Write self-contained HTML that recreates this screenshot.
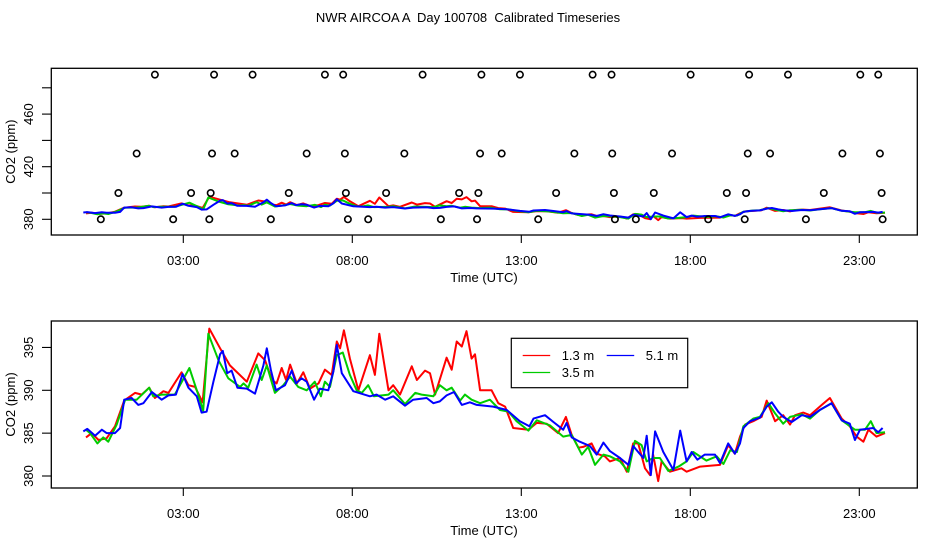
<!DOCTYPE html>
<html><head><meta charset="utf-8"><title>NWR AIRCOA A Day 100708</title>
<style>html,body{margin:0;padding:0;background:#fff;}svg{display:block;font-family:"Liberation Sans",sans-serif;}</style>
</head><body>
<svg id="chart" width="936" height="540" viewBox="0 0 936 540"></svg>
<script>
// ---- data (hours UTC, CO2 ppm) ----
const redT=[0.12,0.29,0.49,0.73,0.98,1.25,1.57,1.77,1.99,2.16,2.41,2.56,2.95,3.15,3.35,3.57,3.77,4.09,4.38,4.88,5.22,5.42,5.62,5.76,5.91,6.04,6.16,6.36,6.55,6.75,7.00,7.19,7.39,7.54,7.64,7.75,7.93,8.18,8.52,8.67,8.80,9.07,9.21,9.41,9.76,9.91,10.15,10.30,10.45,10.79,10.94,11.09,11.24,11.38,11.53,11.63,11.78,12.12,12.32,12.52,12.76,13.21,13.46,13.75,14.09,14.32,14.49,14.69,14.83,15.08,15.23,15.47,15.62,15.92,16.12,16.31,16.46,16.66,16.81,16.90,17.05,17.15,17.40,17.74,17.89,18.29,18.58,18.88,19.12,19.32,19.47,19.62,19.86,20.11,20.26,20.51,20.75,20.95,21.10,21.34,21.54,21.89,22.13,22.48,22.72,22.92,23.12,23.27,23.51,23.76];
const redV=[384.5,385.0,384.2,384.4,385.8,388.8,389.7,389.5,390.3,389.1,389.9,389.7,392.1,390.6,390.4,388.6,397.2,394.9,392.9,391.0,394.3,393.5,391.2,390.8,392.6,391.2,393.0,390.8,392.1,390.2,390.8,392.4,391.8,395.7,394.9,397.0,393.7,390.0,394.1,391.8,396.6,390.0,390.6,389.5,392.8,391.2,392.3,392.0,389.5,393.8,392.4,395.7,395.1,396.9,393.7,394.2,390.0,390.0,388.5,388.1,385.6,385.4,386.2,386.1,385.0,386.9,384.8,383.3,383.4,383.8,382.6,382.3,381.7,382.1,380.5,383.8,383.8,380.9,380.1,382.5,379.4,381.7,380.5,380.9,380.5,381.1,381.2,381.3,383.6,382.6,384.6,386.0,386.4,386.9,388.8,386.4,387.1,386.0,387.1,387.4,387.1,388.3,389.1,386.7,385.8,384.6,384.0,385.4,384.6,385.0];
const greenT=[0.12,0.24,0.46,0.63,0.78,1.03,1.28,1.62,1.99,2.11,2.36,2.75,3.18,3.44,3.59,3.74,4.04,4.33,4.68,4.78,4.92,5.17,5.32,5.47,5.71,5.96,6.16,6.40,6.65,6.89,7.07,7.19,7.34,7.54,7.72,7.93,8.13,8.28,8.47,8.64,9.07,9.21,9.56,9.86,10.05,10.40,10.59,10.79,10.94,11.19,11.33,11.53,11.78,12.07,12.37,12.62,12.86,13.21,13.46,13.85,14.24,14.49,14.79,14.98,15.18,15.43,15.62,15.92,16.17,16.36,16.56,16.71,16.90,17.10,17.35,17.65,17.89,18.09,18.48,18.78,18.98,19.18,19.38,19.57,19.86,20.06,20.31,20.51,20.75,20.95,21.30,21.54,21.83,22.18,22.48,22.87,23.17,23.34,23.51,23.76];
const greenV=[385.4,385.0,383.8,384.5,384.0,386.0,388.9,388.9,390.3,389.3,389.5,389.5,392.6,389.5,387.6,396.6,393.5,391.4,390.4,390.8,390.3,393.0,391.2,392.9,389.7,390.6,391.6,390.4,390.0,391.0,389.3,391.0,390.4,394.1,394.4,391.8,390.0,389.7,390.6,389.3,389.5,390.0,388.4,389.7,389.5,389.3,390.6,390.0,390.3,388.8,389.5,388.9,388.5,388.9,387.7,387.5,386.4,385.3,386.5,385.9,384.6,384.8,382.5,383.4,381.3,382.5,382.3,381.7,380.5,384.1,383.6,381.7,382.1,382.1,380.6,381.1,381.7,382.8,381.8,382.3,381.4,383.0,382.8,385.8,386.7,386.9,388.5,387.3,386.1,386.9,387.2,386.7,387.7,388.5,386.5,385.4,385.4,386.4,385.0,385.1];
const blueT=[0.04,0.16,0.39,0.59,0.73,0.98,1.13,1.25,1.47,1.67,1.82,2.07,2.36,2.56,2.78,2.98,3.15,3.40,3.54,3.69,3.89,4.09,4.17,4.30,4.43,4.60,4.88,5.12,5.37,5.47,5.59,5.74,6.01,6.21,6.33,6.50,6.65,6.87,7.04,7.29,7.44,7.54,7.69,8.03,8.52,8.72,8.97,9.21,9.56,9.80,10.20,10.40,10.59,10.79,11.01,11.24,11.48,11.68,12.17,12.57,12.96,13.24,13.36,13.70,13.95,14.24,14.34,14.49,14.73,15.03,15.23,15.43,15.62,15.92,16.17,16.31,16.46,16.61,16.71,16.83,16.96,17.20,17.50,17.70,17.89,18.04,18.21,18.43,18.73,18.88,19.12,19.32,19.47,19.57,19.77,20.06,20.26,20.41,20.60,20.75,21.00,21.30,21.54,21.83,22.18,22.48,22.72,22.87,23.02,23.22,23.41,23.56,23.69];
const blueV=[385.2,385.5,384.7,385.4,385.0,385.0,385.6,388.9,389.1,388.3,388.5,389.8,388.9,389.4,389.5,391.9,390.3,389.3,387.4,387.5,391.0,394.2,394.6,392.0,392.3,390.3,390.2,389.6,392.9,394.9,392.4,390.0,390.6,392.3,390.8,391.4,391.0,388.9,390.2,390.0,392.2,395.3,392.0,389.9,389.3,389.5,388.9,389.3,388.2,388.9,389.1,388.5,388.7,389.4,389.8,388.3,388.6,388.3,388.1,387.7,386.4,385.8,386.7,387.1,386.3,385.4,386.2,384.5,384.0,383.5,382.5,383.9,382.9,382.1,381.3,383.5,382.8,382.1,384.7,380.1,385.2,382.8,380.7,385.3,381.7,382.8,381.9,382.5,382.5,381.5,383.8,382.6,383.8,385.6,386.4,386.8,388.1,388.6,387.5,386.9,386.3,387.1,386.9,387.7,388.5,386.5,386.1,384.2,385.4,385.5,385.6,385.1,385.6];
// scatter points in top panel
const dotT380=[0.56,2.70,3.77,5.59,7.87,8.47,10.62,11.69,13.50,15.77,16.39,18.53,19.61,21.42,23.69];
const dotT400=[1.08,3.23,3.81,6.12,7.81,9.00,11.16,11.73,14.03,15.74,16.92,19.08,19.65,21.95,23.66];
const dotT430=[1.62,3.85,4.52,6.65,7.78,9.54,11.78,12.42,14.57,15.69,17.46,19.70,20.36,22.50,23.61];
const dotT490=[2.16,3.91,5.05,7.19,7.73,10.08,11.82,12.96,15.11,15.67,18.01,19.74,20.89,23.03,23.56];
const dotLevels=[380,400,430,490];
const xTickHours=[3,8,13,18,23];
const xTickLabels=["03:00","08:00","13:00","18:00","23:00"];
const topYTicks=[380,400,420,440,460,480];
const topYLabels=[380,420,460];
const botYTicks=[380,385,390,395];
const seriesNames=["1.3 m","3.5 m","5.1 m"];
const seriesColors=["#ff0000","#00cc00","#0000ff"];

const NS="http://www.w3.org/2000/svg";
const svg=document.getElementById('chart');
function el(tag,attrs,parent){const e=document.createElementNS(NS,tag);for(const k in attrs)e.setAttribute(k,attrs[k]);(parent||svg).appendChild(e);return e;}
function xs(h){return 81.9+h*33.8;}
function yTop(v){return 219.3-(v-380)*1.315;}
function yBot(v){return 476-(v-380)*8.57;}

const title=el('text',{x:468,y:22,'text-anchor':'middle','font-size':13,fill:'#000',style:'white-space:pre'});


title.textContent="NWR AIRCOA A  Day 100708  Calibrated Timeseries";

function panel(name,top,bottom,yfn,yTicks,yLabels,drawDots){
  const g=el('g',{});
  
  
  const clipId=name+'-clip';
  const cp=el('clipPath',{id:clipId},g);
  el('rect',{x:51.3,y:top,width:866,height:bottom-top},cp);
  const frame=el('rect',{x:51.3,y:top,width:866,height:bottom-top,fill:'none',stroke:'#000','stroke-width':1.3},g);
  
  
  yTicks.forEach(v=>{
    const t=el('line',{x1:42,x2:51.3,y1:yfn(v),y2:yfn(v),stroke:'#000','stroke-width':1.1},g);
    
    
  });
  yLabels.forEach(v=>{
    const y=yfn(v);
    const t=el('text',{x:0,y:0,transform:`translate(33,${y}) rotate(-90)`,'text-anchor':'middle','font-size':13},g);
    
    
    t.textContent=v;
  });
  const yt=el('text',{x:0,y:0,transform:`translate(15,${(top+bottom)/2}) rotate(-90)`,'text-anchor':'middle','font-size':13},g);
  
  
  yt.textContent="CO2 (ppm)";
  xTickHours.forEach((h,i)=>{
    const t=el('line',{x1:xs(h),x2:xs(h),y1:bottom,y2:bottom+8,stroke:'#000','stroke-width':1.1},g);
    
    
    const l=el('text',{x:xs(h),y:bottom+30,'text-anchor':'middle','font-size':13},g);
    
    
    l.textContent=xTickLabels[i];
  });
  const xt=el('text',{x:484,y:bottom+47,'text-anchor':'middle','font-size':13},g);
  
  
  xt.textContent="Time (UTC)";
  const lines=el('g',{'clip-path':`url(#${clipId})`},g);
  const sets=[[redT,redV],[greenT,greenV],[blueT,blueV]];
  sets.forEach((s,i)=>{
    const pts=s[0].map((t,j)=>xs(t).toFixed(1)+','+yfn(s[1][j]).toFixed(1)).join(' ');
    const p=el('polyline',{points:pts,fill:'none',stroke:seriesColors[i],'stroke-width':2,'stroke-linejoin':'round'},lines);
    
    
  });
  if(drawDots){
    const dsets=[dotT380,dotT400,dotT430,dotT490];
    dsets.forEach((arr,k)=>{
      arr.forEach(t=>{
        const c=el('circle',{cx:xs(t),cy:yfn(dotLevels[k]),r:3.2,fill:'none',stroke:'#000','stroke-width':1.6},g);
        
        
      });
    });
  }
  return g;
}
panel('top-panel',68.3,235,yTop,topYTicks,topYLabels,true);
panel('bottom-panel',321,488,yBot,botYTicks,botYTicks,false);

// legend
const lg=el('g',{});


const lb=el('rect',{x:511.3,y:338.3,width:176.4,height:49.4,fill:'#fff',stroke:'#000','stroke-width':1.2},lg);


const legPos=[[522.7,355.5],[522.7,372.5],[606.7,355.5]];
seriesNames.forEach((n,i)=>{
  const [x,y]=legPos[i];
  const ln=el('line',{x1:x,x2:x+27.5,y1:y,y2:y,stroke:seriesColors[i],'stroke-width':1.2},lg);
  
  
  const tx=el('text',{x:x+39,y:y+4.5,'font-size':13},lg);
  
  
  tx.textContent=n;
});
</script>
</body></html>
